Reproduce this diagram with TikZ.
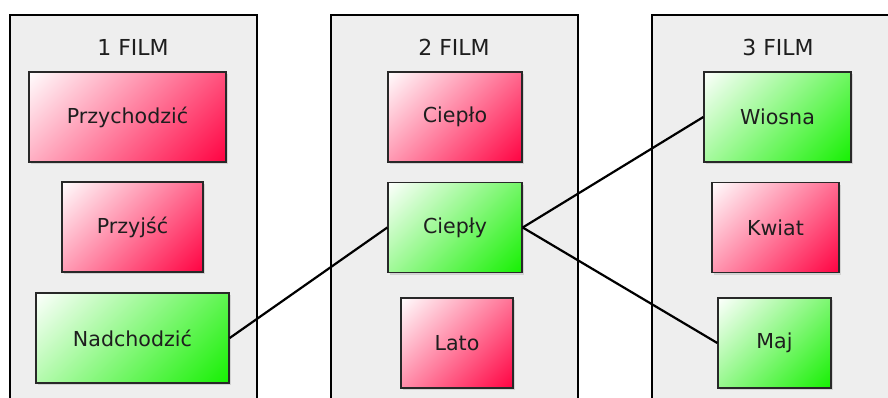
\documentclass[tikz,border=0pt]{standalone}
\usepackage{fontspec}
\setmainfont{DejaVu Sans}
\usetikzlibrary{shadows}

\definecolor{panelgray}{RGB}{238,238,238}
\definecolor{boxedge}{RGB}{40,40,40}
\definecolor{wrongred}{RGB}{255,0,64}
\definecolor{goodgreen}{RGB}{20,240,0}
\definecolor{labelgray}{RGB}{30,30,30}

\pgfdeclareverticalshading{redfade}{100bp}{color(0bp)=(wrongred); color(14bp)=(wrongred); color(86bp)=(white); color(100bp)=(white)}
\pgfdeclareverticalshading{greenfade}{100bp}{color(0bp)=(goodgreen); color(14bp)=(goodgreen); color(86bp)=(white); color(100bp)=(white)}

\begin{document}
\begin{tikzpicture}[x=0.5pt, y=-0.5pt,
  film/.style={draw=black, line width=1.2pt, fill=panelgray},
  title/.style={text=labelgray, font=\fontsize{11}{13}\selectfont},
  word/.style={draw=boxedge, line width=0.7pt, text=labelgray,
    font=\fontsize{10.3}{12}\selectfont, minimum height=45pt,
    drop shadow={shadow xshift=1.2pt, shadow yshift=-1.2pt, opacity=0.25}},
  wrong/.style={word, shade, shading=redfade, shading angle=45},
  good/.style={word, shade, shading=greenfade, shading angle=45},
  link/.style={draw=black, line width=1.1pt}]

\useasboundingbox (0,0) rectangle (888,397);

% the three film panels
\draw [film] (10,15) rectangle (257,410);
\draw [film] (331,15) rectangle (578,410);
\draw [film] (652,15) rectangle (900,410);

\node [title] (film1) at (133,47) {1 FILM};
\node [title] (film2) at (454,47) {2 FILM};
\node [title] (film3) at (778,47) {3 FILM};

% words of film 1
\node [wrong, minimum width=98.5pt] (przychodzic) at (127.5,117) {Przychodzić};
\node [wrong, minimum width=70.5pt] (przyjsc) at (132.5,227) {Przyjść};
\node [good, minimum width=96.5pt] (nadchodzic) at (132.5,338) {Nadchodzić};

% words of film 2
\node [wrong, minimum width=67pt] (cieplo) at (455,117) {Ciepło};
\node [good, minimum width=67pt] (cieply) at (455,227.5) {Ciepły};
\node [wrong, minimum width=56pt] (lato) at (457,343) {Lato};

% words of film 3
\node [good, minimum width=73.5pt] (wiosna) at (777.5,117) {Wiosna};
\node [wrong, minimum width=63.5pt] (kwiat) at (775.5,227.5) {Kwiat};
\node [good, minimum width=56.5pt] (maj) at (774.5,343) {Maj};

\draw [link] (nadchodzic.east) -- (cieply.west);
\draw [link] (cieply.east) -- (wiosna.west);
\draw [link] (cieply.east) -- (maj.west);

\end{tikzpicture}
\end{document}
